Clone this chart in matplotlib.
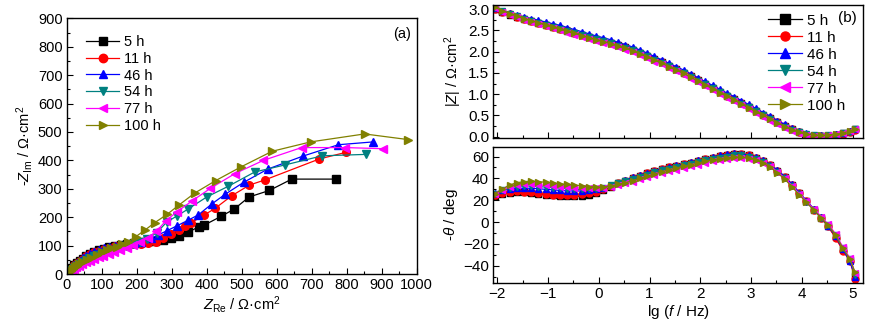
import matplotlib
matplotlib.use("Agg")
import matplotlib.pyplot as plt
from matplotlib.ticker import MultipleLocator

plt.rcParams['font.family'] = ['Liberation Sans', 'DejaVu Sans']
plt.rcParams['mathtext.fontset'] = 'custom'
plt.rcParams['mathtext.rm'] = 'Liberation Sans'
plt.rcParams['mathtext.it'] = 'Liberation Sans:italic'
plt.rcParams['font.size'] = 10.5

labels = ['5 h', '11 h', '46 h', '54 h', '77 h', '100 h']
colors = ['#000000', '#ff0000', '#0000ff', '#008080', '#ff00ff', '#808000']
markers = ['s', 'o', '^', 'v', '<', '>']

# Nyquist data (Ohm cm^2)
zre_5 = [4, 7, 11, 16, 22, 29, 37, 46, 56, 67, 79, 92, 106, 121, 137, 154, 172, 191, 211, 231, 252, 274, 298, 321, 347, 377, 393, 441, 478, 521, 579, 643, 768]
zim_5 = [2, 8, 15, 22, 30, 38, 46, 54, 62, 70, 77, 83, 89, 94, 99, 103, 107, 110, 113, 115, 116, 120, 125, 134, 147, 166, 172, 203, 228, 271, 294, 334, 334]
zre_11 = [4, 7, 11, 16, 22, 29, 37, 46, 56, 67, 79, 92, 106, 121, 137, 154, 172, 191, 211, 232, 255, 276, 297, 320, 338, 354, 392, 424, 471, 522, 566, 722, 797]
zim_11 = [2, 8, 15, 22, 30, 38, 46, 54, 62, 69, 76, 82, 88, 93, 97, 100, 103, 105, 106, 108, 114, 128, 141, 155, 169, 179, 207, 231, 275, 313, 331, 405, 428]
zre_46 = [4, 7, 11, 16, 22, 29, 37, 46, 56, 67, 79, 92, 106, 121, 137, 154, 172, 191, 211, 240, 262, 286, 314, 348, 376, 414, 452, 506, 574, 675, 776, 876]
zim_46 = [2, 8, 15, 23, 31, 39, 47, 55, 63, 71, 78, 84, 90, 95, 99, 103, 107, 110, 113, 125, 138, 152, 169, 190, 208, 246, 280, 323, 369, 415, 455, 465]
zre_54 = [5, 9, 14, 20, 27, 35, 44, 54, 65, 77, 90, 104, 119, 135, 152, 170, 189, 209, 230, 257, 286, 316, 346, 400, 462, 537, 624, 730, 855]
zim_54 = [2, 7, 13, 20, 27, 34, 41, 48, 55, 62, 68, 74, 80, 86, 92, 98, 105, 113, 123, 145, 183, 205, 228, 271, 309, 359, 384, 416, 421]
zre_77 = [6, 10, 15, 21, 28, 36, 45, 55, 66, 78, 91, 105, 120, 136, 153, 171, 190, 210, 232, 256, 284, 316, 358, 410, 480, 562, 671, 795, 905]
zim_77 = [1, 6, 11, 17, 23, 29, 35, 41, 47, 53, 59, 65, 71, 78, 85, 93, 102, 113, 128, 150, 188, 220, 257, 301, 353, 400, 445, 445, 441]
zre_100 = [5, 8, 12, 17, 23, 29, 36, 44, 57, 70, 86, 100, 114, 128, 143, 159, 176, 198, 224, 252, 288, 322, 366, 426, 498, 587, 697, 851, 976]
zim_100 = [1, 6, 11, 17, 23, 29, 35, 41, 49, 58, 67, 76, 85, 90, 96, 104, 114, 132, 155, 181, 211, 244, 285, 329, 377, 432, 465, 493, 473]

# Bode data
lgf = [-2.05, -1.91, -1.76, -1.62, -1.48, -1.33, -1.19, -1.05, -0.91, -0.76, -0.62, -0.48, -0.33, -0.19, -0.05,
       0.09, 0.24, 0.38, 0.52, 0.67, 0.81, 0.95, 1.09, 1.24, 1.38, 1.52, 1.67, 1.81, 1.95, 2.09, 2.24, 2.38,
       2.52, 2.67, 2.81, 2.95, 3.09, 3.24, 3.38, 3.52, 3.67, 3.81, 3.95, 4.09, 4.24, 4.38, 4.52, 4.67, 4.81,
       4.95, 5.05]

modz_5 = [3.00, 2.93, 2.87, 2.82, 2.77, 2.72, 2.67, 2.63, 2.59, 2.54, 2.49, 2.44, 2.39, 2.35, 2.30, 2.25, 2.20,
          2.15, 2.10, 2.04, 1.97, 1.90, 1.82, 1.75, 1.67, 1.59, 1.51, 1.42, 1.33, 1.24, 1.15, 1.06, 0.97, 0.88,
          0.79, 0.70, 0.61, 0.52, 0.43, 0.34, 0.25, 0.17, 0.10, 0.05, 0.02, 0.01, 0.02, 0.04, 0.08, 0.12, 0.17]
modz_11 = [3.01, 2.94, 2.88, 2.82, 2.77, 2.72, 2.68, 2.63, 2.59, 2.54, 2.50, 2.45, 2.40, 2.35, 2.31, 2.26, 2.21,
           2.16, 2.10, 2.04, 1.98, 1.91, 1.83, 1.75, 1.67, 1.59, 1.51, 1.42, 1.33, 1.24, 1.15, 1.06, 0.97, 0.88,
           0.79, 0.70, 0.61, 0.52, 0.43, 0.34, 0.25, 0.17, 0.10, 0.05, 0.02, 0.01, 0.01, 0.03, 0.07, 0.11, 0.16]
modz_46 = [3.04, 2.97, 2.91, 2.86, 2.82, 2.78, 2.74, 2.70, 2.66, 2.62, 2.57, 2.52, 2.47, 2.42, 2.37, 2.33, 2.28,
           2.22, 2.17, 2.11, 2.04, 1.97, 1.89, 1.81, 1.73, 1.65, 1.57, 1.48, 1.39, 1.30, 1.21, 1.12, 1.03, 0.94,
           0.85, 0.76, 0.67, 0.57, 0.48, 0.38, 0.29, 0.20, 0.13, 0.08, 0.05, 0.04, 0.04, 0.06, 0.09, 0.13, 0.17]
modz_54 = [3.03, 2.96, 2.89, 2.83, 2.78, 2.73, 2.68, 2.63, 2.58, 2.54, 2.49, 2.44, 2.39, 2.34, 2.29, 2.25, 2.20,
           2.14, 2.09, 2.03, 1.96, 1.89, 1.81, 1.74, 1.66, 1.58, 1.50, 1.41, 1.32, 1.23, 1.14, 1.05, 0.96, 0.87,
           0.78, 0.69, 0.60, 0.51, 0.42, 0.33, 0.24, 0.16, 0.10, 0.06, 0.03, 0.02, 0.03, 0.05, 0.08, 0.12, 0.17]
modz_77 = [3.02, 2.94, 2.87, 2.81, 2.75, 2.70, 2.65, 2.60, 2.55, 2.50, 2.45, 2.40, 2.35, 2.30, 2.25, 2.21, 2.16,
           2.10, 2.05, 1.99, 1.92, 1.85, 1.77, 1.70, 1.62, 1.54, 1.46, 1.37, 1.28, 1.19, 1.10, 1.01, 0.92, 0.83,
           0.74, 0.65, 0.56, 0.47, 0.38, 0.29, 0.21, 0.14, 0.08, 0.04, 0.02, 0.02, 0.03, 0.06, 0.09, 0.13, 0.18]
modz_100 = [3.05, 2.97, 2.90, 2.84, 2.78, 2.73, 2.68, 2.63, 2.58, 2.53, 2.48, 2.43, 2.38, 2.33, 2.28, 2.24, 2.19,
            2.13, 2.08, 2.02, 1.95, 1.88, 1.80, 1.73, 1.65, 1.57, 1.49, 1.40, 1.31, 1.22, 1.13, 1.04, 0.95, 0.86,
            0.77, 0.68, 0.59, 0.50, 0.41, 0.32, 0.24, 0.16, 0.10, 0.06, 0.04, 0.03, 0.04, 0.06, 0.09, 0.13, 0.18]

phase_5 = [24, 26, 27, 27.5, 27.5, 27, 26, 25, 24.5, 24, 23.5, 23.5, 24, 25, 27, 29.5, 32.5, 35.5, 38, 40.5, 42.5,
           44.5, 46.5, 48.5, 50, 51.5, 53, 54.5, 56, 57.5, 59, 60.5, 61.5, 62.5, 62, 61, 59, 56, 52, 47, 41, 34,
           26.5, 19, 11.5, 4, -4, -14, -25, -35, -49]
phase_11 = [25, 27, 28, 28.5, 28, 27.5, 26.5, 25.5, 25, 24.5, 24.5, 25, 25.5, 26.5, 28, 30, 33, 35.5, 38, 40.5,
            42.5, 44.5, 46.5, 48.5, 50, 51.5, 53, 54.5, 56, 57.5, 59, 60.5, 61.5, 62.5, 62, 61, 59, 56, 52, 47,
            41, 34, 26.5, 19, 11.5, 4, -4, -15, -26, -36, -52]
phase_46 = [27, 29, 30, 31, 31, 31, 30.5, 30, 29.5, 29, 28.5, 28.5, 28.5, 29, 30, 31.5, 33.5, 36, 38.5, 41, 43,
            45, 47, 49, 50.5, 52, 53.5, 55, 56.5, 58, 59.5, 61, 62, 63, 62.5, 61.5, 59.5, 56.5, 52.5, 47.5, 41.5,
            34.5, 27, 19.5, 12, 4.5, -3.5, -13, -25, -36, -50]
phase_54 = [26, 29, 31, 32.5, 33, 33, 32.5, 32, 31.5, 31, 30.5, 30, 30, 30, 30.5, 31.5, 33.5, 35.5, 37.5, 39.5,
            41.5, 43.5, 45.5, 47.5, 49, 50.5, 52, 53.5, 55, 56.5, 58, 59, 60, 61, 61, 60, 58, 55, 51, 46, 40,
            33, 26, 18.5, 11, 4, -3, -12, -24, -34, -48]
phase_77 = [26, 29.5, 32.5, 34, 34.5, 34.5, 34, 33.5, 33, 32.5, 32, 31.5, 31, 31, 31, 31.5, 32.5, 34, 35.5, 37,
            39, 41, 43, 45, 46.5, 48, 49.5, 51, 52.5, 54, 55.5, 56.5, 57.5, 58.5, 58.5, 58, 57, 54.5, 51, 46, 40,
            33, 26, 19, 12, 5, -2, -11, -23, -33, -47]
phase_100 = [26, 30, 34, 36, 37, 37.5, 37, 36.5, 36, 35, 34.5, 34, 33, 32.5, 32, 32, 33, 34.5, 36, 38, 40, 42,
             44, 46, 48, 49.5, 51, 52.5, 54, 55.5, 57, 58, 59, 59.5, 59.5, 58.5, 57, 54, 50, 45, 39, 32, 25, 18,
             11, 4, -3, -12, -24, -34, -46]

nyq = [(zre_5, zim_5), (zre_11, zim_11), (zre_46, zim_46), (zre_54, zim_54), (zre_77, zim_77), (zre_100, zim_100)]
modz = [modz_5, modz_11, modz_46, modz_54, modz_77, modz_100]
phase = [phase_5, phase_11, phase_46, phase_54, phase_77, phase_100]

fig = plt.figure(figsize=(8.74, 3.25), dpi=100)
ax_a = fig.add_axes([0.0763, 0.1569, 0.4005, 0.7868])
ax_z = fig.add_axes([0.5644, 0.5754, 0.4227, 0.4092])
ax_p = fig.add_axes([0.5644, 0.1283, 0.4227, 0.4203])

# (a) Nyquist
for (zr, zi), lab, c, m in zip(nyq, labels, colors, markers):
    ax_a.plot(zr, zi, color=c, marker=m, markersize=5.5, linewidth=0.9, label=lab)
ax_a.set_xlim(0, 1000)
ax_a.set_ylim(0, 900)
ax_a.xaxis.set_major_locator(MultipleLocator(100))
ax_a.xaxis.set_minor_locator(MultipleLocator(50))
ax_a.yaxis.set_major_locator(MultipleLocator(100))
ax_a.yaxis.set_minor_locator(MultipleLocator(50))
ax_a.set_xlabel(r'$Z_{\rm Re}$ / Ω·cm$^2$', labelpad=1)
ax_a.set_ylabel(r'-$Z_{\rm Im}$ / Ω·cm$^2$', labelpad=2)
ax_a.legend(loc='upper left', bbox_to_anchor=(0.03, 0.97), frameon=False, handlelength=2.3,
            handletextpad=0.3, labelspacing=0.2, borderaxespad=0.2, markerscale=1.1)
ax_a.text(0.985, 0.94, '(a)', transform=ax_a.transAxes, ha='right', va='center')

# (b) Bode modulus
for mz, lab, c, m in zip(modz, labels, colors, markers):
    ax_z.plot(lgf, mz, color=c, marker=m, markersize=5, linewidth=0.9, label=lab)
ax_z.set_xlim(-2.08, 5.2)
ax_z.set_ylim(-0.03, 3.1)
ax_z.xaxis.set_major_locator(MultipleLocator(1))
ax_z.xaxis.set_minor_locator(MultipleLocator(0.5))
ax_z.yaxis.set_major_locator(MultipleLocator(0.5))
ax_z.yaxis.set_minor_locator(MultipleLocator(0.25))
ax_z.tick_params(axis='x', labelbottom=False)
ax_z.set_ylabel(r'|$Z$| / Ω·cm$^2$', labelpad=3)
ax_z.legend(loc='upper right', bbox_to_anchor=(0.968, 0.982), frameon=False, handlelength=2.2,
            handletextpad=0.3, labelspacing=0.2, borderaxespad=0.0, markerscale=1.3, fontsize=11)
ax_z.text(0.9575, 0.902, '(b)', transform=ax_z.transAxes, ha='center', va='center', fontsize=11)

# (b) Bode phase
for ph, lab, c, m in zip(phase, labels, colors, markers):
    ax_p.plot(lgf, ph, color=c, marker=m, markersize=5, linewidth=0.9, label=lab)
ax_p.set_xlim(-2.08, 5.2)
ax_p.set_ylim(-56, 69)
ax_p.xaxis.set_major_locator(MultipleLocator(1))
ax_p.xaxis.set_minor_locator(MultipleLocator(0.5))
ax_p.yaxis.set_major_locator(MultipleLocator(20))
ax_p.yaxis.set_minor_locator(MultipleLocator(10))
ax_p.set_xlabel(r'lg ($f$ / Hz)', labelpad=1, fontsize=11)
ax_p.set_ylabel(r'-$\theta$ / deg', labelpad=2, fontsize=11)

for ax in (ax_a, ax_z, ax_p):
    ax.tick_params(which='both', direction='in', top=False, right=False)
    ax.tick_params(which='major', length=4, width=0.8, pad=3)
    ax.tick_params(which='minor', length=2, width=0.8)
    for s in ax.spines.values():
        s.set_linewidth(1.0)
for ax in (ax_z, ax_p):
    ax.tick_params(axis='both', labelsize=11)

fig.savefig('out.png', dpi=100)
